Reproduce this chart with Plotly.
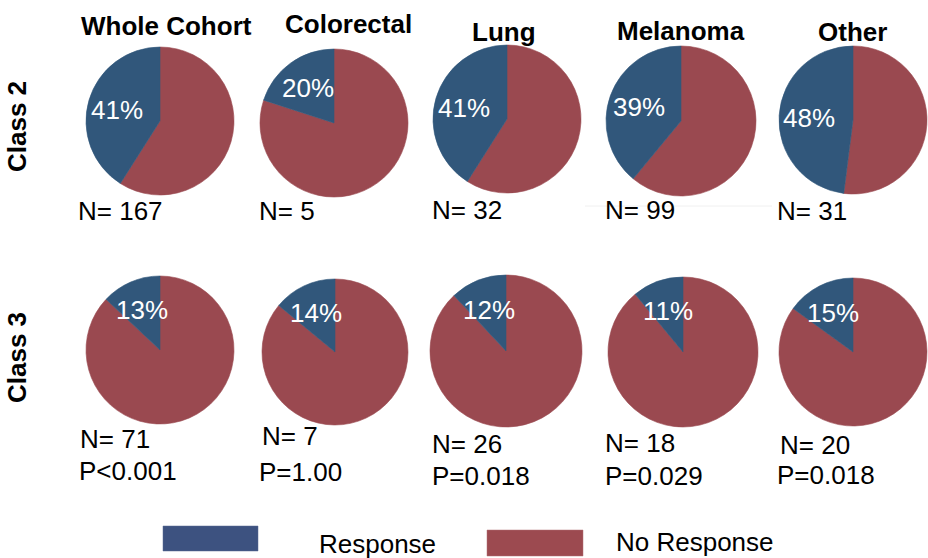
import math
import plotly.graph_objects as go

# data
cohorts = ["Whole Cohort", "Colorectal", "Lung", "Melanoma", "Other"]
class_labels = ["Class 2", "Class 3"]
response_pct_class2 = [41, 20, 41, 39, 48]
response_pct_class3 = [13, 14, 12, 11, 15]
n_class2 = [167, 5, 32, 99, 31]
n_class3 = [71, 7, 26, 18, 20]
p_values = ["P<0.001", "P=1.00", "P=0.018", "P=0.029", "P=0.018"]
legend_labels = ["Response", "No Response"]

W, H = 928, 558
BLUE = "#31577B"
RED = "#9A4950"
FONT = "Arial, Liberation Sans, sans-serif"
FS = 26

# pie centres / radii in pixels (layout only)
centers = [
    [(160, 121, 74), (334, 123, 74), (507, 119, 74), (681, 121, 75), (853, 120, 74)],
    [(160, 350, 74), (335, 352, 73), (506, 351, 76), (683, 352, 75), (853, 352, 74)],
]
title_pos = [(166, 25), (348, 23), (504, 31), (681, 30), (852, 31)]
n_pos = [
    [(78, 210), (259, 210), (432, 209), (605, 209), (777, 210)],
    [(80, 438), (262, 435), (432, 443), (605, 442), (780, 444)],
]
p_pos = [(79, 470), (259, 471), (432, 475), (605, 475), (777, 474)]


def px(x):
    return min(max(x / W, 0), 1)


def py(y):
    return min(max(1 - y / H, 0), 1)


fig = go.Figure()
annotations = []

for row, (pcts, ns) in enumerate([(response_pct_class2, n_class2),
                                   (response_pct_class3, n_class3)]):
    for col, pct in enumerate(pcts):
        cx, cy, r = centers[row][col]
        # no-response first, clockwise from 12 o'clock -> response ends at 12 on the left
        fig.add_trace(go.Pie(
            values=[100 - pct, pct],
            labels=[legend_labels[1], legend_labels[0]],
            sort=False,
            direction="clockwise",
            rotation=0,
            marker=dict(colors=[RED, BLUE], line=dict(width=0.6, color=[RED, BLUE])),
            textinfo="none",
            hoverinfo="label+percent",
            showlegend=False,
            domain=dict(x=[px(cx - r), px(cx + r)], y=[py(cy + r), py(cy - r)]),
        ))
        # percentage label at the middle of the response slice
        mid = math.radians(pct / 100 * 360 / 2)
        lx = cx - 0.6 * r * math.sin(mid)
        ly = cy - 0.6 * r * math.cos(mid)
        annotations.append(dict(x=px(lx), y=py(ly + 1), text=f"{pct}%", showarrow=False,
                                xanchor="center", yanchor="middle",
                                font=dict(size=FS, color="white", family=FONT)))
        nx, ny = n_pos[row][col]
        annotations.append(dict(x=px(nx - 2), y=py(ny + 1), text=f"N= {ns[col]}", showarrow=False,
                                xanchor="left", yanchor="middle",
                                font=dict(size=FS, color="black", family=FONT)))

for col, name in enumerate(cohorts):
    tx, ty = title_pos[col]
    annotations.append(dict(x=px(tx), y=py(ty + 1), text=f"<b>{name}</b>", showarrow=False,
                            xanchor="center", yanchor="middle",
                            font=dict(size=FS, color="black", family=FONT)))
    ppx, ppy = p_pos[col]
    annotations.append(dict(x=px(ppx - 2), y=py(ppy + 1), text=p_values[col], showarrow=False,
                            xanchor="left", yanchor="middle",
                            font=dict(size=FS, color="black", family=FONT)))

for label, ly in zip(class_labels, [127, 358]):
    annotations.append(dict(x=px(17), y=py(ly), text=f"<b>{label}</b>", showarrow=False,
                            textangle=-90, xanchor="center", yanchor="middle",
                            font=dict(size=FS, color="black", family=FONT)))

# legend
shapes = [
    dict(type="rect", xref="paper", yref="paper", x0=px(163), x1=px(258), y0=py(551), y1=py(526),
         fillcolor="#3D5280", line=dict(width=0.5, color="#5a6a90")),
    dict(type="rect", xref="paper", yref="paper", x0=px(487), x1=px(583), y0=py(556), y1=py(530),
         fillcolor="#9C4A50", line=dict(width=0.5, color="#b07075")),
    dict(type="line", xref="paper", yref="paper", x0=px(585), x1=px(772), y0=py(206), y1=py(206),
         line=dict(width=1, color="#f0f0f0")),
]
annotations.append(dict(x=px(317), y=py(544), text=legend_labels[0], showarrow=False,
                        xanchor="left", yanchor="middle",
                        font=dict(size=FS, color="black", family=FONT)))
annotations.append(dict(x=px(614), y=py(542), text=legend_labels[1], showarrow=False,
                        xanchor="left", yanchor="middle",
                        font=dict(size=FS, color="black", family=FONT)))

fig.update_layout(
    width=W, height=H,
    margin=dict(l=0, r=0, t=0, b=0),
    paper_bgcolor="white",
    plot_bgcolor="white",
    annotations=annotations,
    shapes=shapes,
    font=dict(family=FONT),
)

fig.write_html("out.html", config={"displayModeBar": False},
               post_script="document.body.style.margin='0';")
